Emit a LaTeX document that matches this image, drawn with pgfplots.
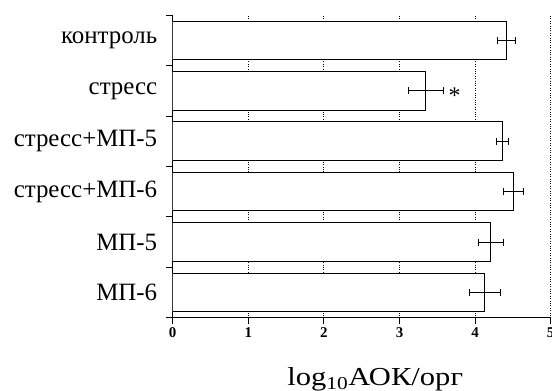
\documentclass[border=0pt]{standalone}
\usepackage{fontspec}
\setmainfont{Liberation Serif}
\usepackage{pgfplots}
\pgfplotsset{compat=1.18}
\pgfplotstableread{
y x e
5 4.41 0.12
4 3.35 0.23
3 4.36 0.08
2 4.51 0.13
1 4.21 0.17
0 4.13 0.20
}\datatable
\begin{document}
\begin{tikzpicture}
\begin{axis}[
 name=ax,
 scale only axis, width=378bp, height=302.4bp,
 xbar, bar width=38.6bp,
 xmin=0, xmax=5, ymin=-0.5, ymax=5.5,
 axis x line*=bottom, axis y line*=left,
 axis line style={line width=1.2bp, -},
 xtick={0,1,2,3,4,5},
 ytick={-0.5,0.5,1.5,2.5,3.5,4.5,5.5},
 yticklabels={},
 tick align=outside,
 major tick length=6.5bp,
 tick style={black, line width=1.1bp},
 xmajorgrids,
 grid style={black, dotted, line width=0.9bp},
 /pgf/number format/assume math mode=true,
 xticklabel style={font=\fontsize{15}{17}\selectfont\bfseries},
 extra y ticks={0,1,2,3,4,5},
 extra y tick labels={МП-6, МП-5, стресс+МП-6, стресс+МП-5, стресс, контроль},
 extra y tick style={major tick length=0pt, tick style={draw=none}, yticklabel style={font=\fontsize{25}{29}\selectfont, xshift=-12bp}},
 xlabel={\scalebox{1.18}[1]{log\textsubscript{10}АОК/орг}},
 xlabel style={font=\fontsize{26}{30}\selectfont, xshift=13.5bp, yshift=-23bp},
]
\addplot[fill=white, draw=black, line width=1bp,
  error bars/.cd, x dir=both, x explicit,
  error bar style={line width=1bp, black},
  error mark=|,
  error mark options={black, line width=1bp, mark size=3.5bp}]
  table[x=x, y=y, x error=e] {\datatable};
\node[font=\fontsize{24}{28}\selectfont, yshift=-5bp] at (axis cs:3.73,4) {*};
\end{axis}
\pgfresetboundingbox
\path ([shift={(-172.7bp,-73.3bp)}]ax.south west) rectangle ([shift={(1.3bp,15.3bp)}]ax.north east);
\end{tikzpicture}
\end{document}
